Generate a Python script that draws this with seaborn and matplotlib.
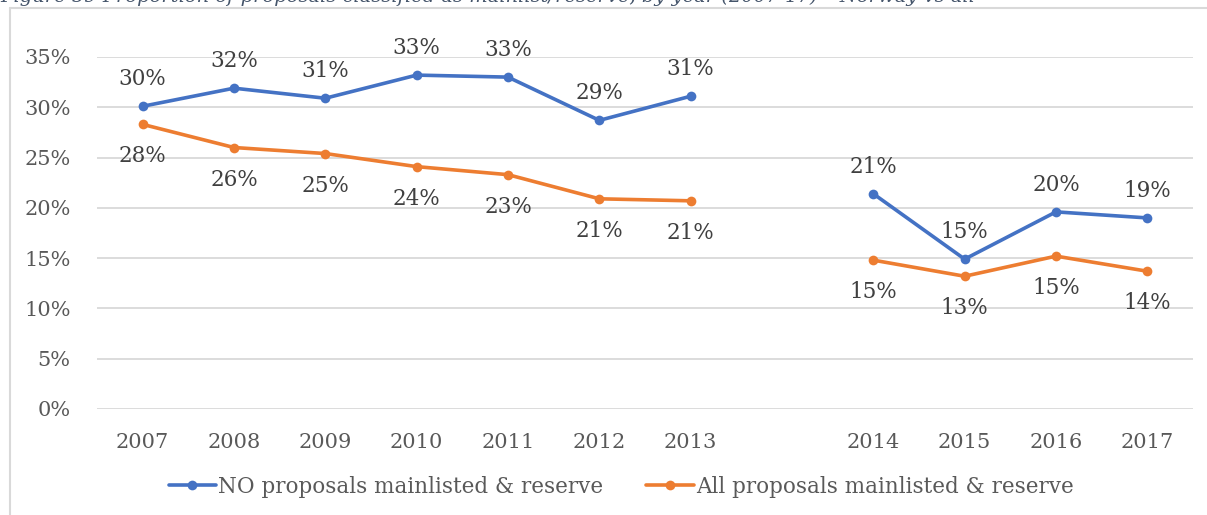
import numpy as np
import pandas as pd
import seaborn as sns
import matplotlib.pyplot as plt
from matplotlib.lines import Line2D

# data
slots = ["2007", "2008", "2009", "2010", "2011", "2012", "2013", "",
         "2014", "2015", "2016", "2017"]
years = ["2007", "2008", "2009", "2010", "2011", "2012", "2013",
         "2014", "2015", "2016", "2017"]
period = [1, 1, 1, 1, 1, 1, 1, 2, 2, 2, 2]
no_share = [30.1, 31.9, 30.9, 33.2, 33.0, 28.7, 31.1, 21.4, 14.9, 19.6, 19.0]
all_share = [28.3, 26.0, 25.4, 24.1, 23.3, 20.9, 20.7, 14.8, 13.2, 15.2, 13.7]
series_names = ["NO proposals mainlisted & reserve",
                "All proposals mainlisted & reserve"]
colors = ["#4472C4", "#ED7D31"]

rows = []
for name, vals in zip(series_names, [no_share, all_share]):
    for y, p, v in zip(years, period, vals):
        rows.append({"series": name, "year": y, "pos": slots.index(y),
                     "period": p, "share": v / 100})
df = pd.DataFrame(rows)

sns.set_theme(style="white")
plt.rcParams["font.family"] = ["DejaVu Serif"]

fig = plt.figure(figsize=(12.07, 5.15), dpi=100)
ax = fig.add_axes([97 / 1207, 1 - 409 / 515, 1096 / 1207, 352 / 515])

sns.lineplot(data=df, x="pos", y="share", hue="series", units="period",
             estimator=None, palette=colors, marker="o", markersize=7,
             markeredgewidth=0, linewidth=2.6, ax=ax, legend=True)

# data labels: blue above, orange below
for _, r in df.iterrows():
    above = r["series"] == series_names[0]
    ax.annotate("%d%%" % round(r["share"] * 100), (r["pos"], r["share"]),
                xytext=(0, 16 if above else -21), textcoords="offset pixels",
                ha="center", va="bottom" if above else "top",
                fontsize=15.5, color="#404040")

ax.set_xlim(-0.5, len(slots) - 0.5)
ax.set_ylim(0, 0.35)
ax.set_xticks(range(len(slots)))
ax.set_xticklabels(slots)
ax.set_yticks(np.arange(0, 0.351, 0.05))
ax.set_yticklabels(["%d%%" % v for v in range(0, 36, 5)])
ax.tick_params(axis="both", length=0, labelsize=15, labelcolor="#595959")
ax.tick_params(axis="y", pad=19)
ax.tick_params(axis="x", pad=17)
ax.grid(axis="y", color="#D9D9D9", linewidth=1.3)
ax.set_axisbelow(True)
for s in ax.spines.values():
    s.set_visible(False)
ax.set_xlabel("")
ax.set_ylabel("")

handles, labels = ax.get_legend_handles_labels()
ax.legend(handles, labels, loc="center", bbox_to_anchor=(621 / 1207, 1 - 487 / 515),
          bbox_transform=fig.transFigure, ncol=2, frameon=False,
          fontsize=15.5, labelcolor="#595959", handlelength=2.2,
          handletextpad=0.1, columnspacing=2.0)

# chart frame (left and top edges visible)
fig.add_artist(Line2D([10 / 1207, 10 / 1207], [0, 1 - 8 / 515],
                      transform=fig.transFigure, color="#D9D9D9", linewidth=1.5))
fig.add_artist(Line2D([10 / 1207, 1], [1 - 8 / 515, 1 - 8 / 515],
                      transform=fig.transFigure, color="#D9D9D9", linewidth=1.5))

# caption, cut off at the top like in the source
fig.text(0.0, 1 - 2 / 515,
         "Figure 59 Proportion of proposals classified as mainlist/reserve, by year (2007-17) \u2013 Norway vs all",
         ha="left", va="baseline", fontsize=14, style="italic", color="#44546A")

fig.savefig("out.png", dpi=100)
